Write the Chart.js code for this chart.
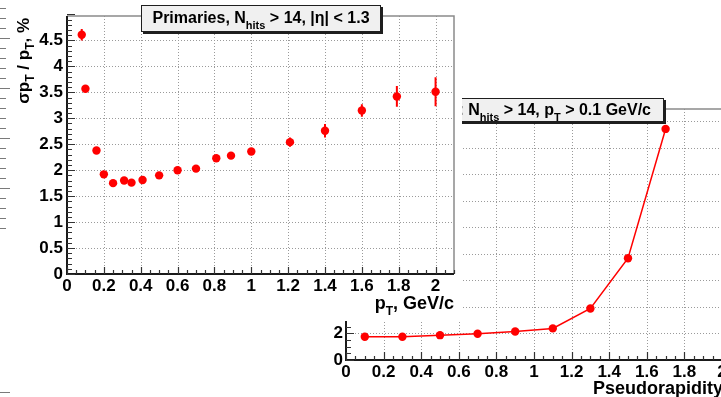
<!DOCTYPE html>
<html>
<head>
<meta charset="utf-8">
<script src="https://cdn.jsdelivr.net/npm/chart.js@4.4.1/dist/chart.umd.min.js"></script>
<style>
  html, body { margin: 0; padding: 0; background: #fff; }
  body { width: 721px; height: 397px; overflow: hidden; position: relative;
         font-family: 'Liberation Sans', Arial, sans-serif; }
  .pad { position: absolute; }
  .pad canvas { position: absolute; left: 0; top: 0; }
  .pave { position: absolute; background: #f0f0f0; border: 1px solid #1e1e1e;
          box-shadow: 2px 2px 0 #1e1e1e; font-weight: bold; font-size: 16px;
          white-space: nowrap; color: #000; text-align: center; }
  .sub { font-size: 12px; position: relative; top: 6px; }
  .pave .sub { font-size: 11px; }
  .atitle { position: absolute; font-weight: bold; font-size: 18px; line-height: 20px;
            white-space: nowrap; color: #000; }
  .vtitle { writing-mode: vertical-rl; transform: rotate(180deg); font-size: 17px; }
  .vtitle .sub { top: 0; left: -6px; }
</style>
</head>
<body>

<!-- resolution vs pseudorapidity (back pad) -->
<div class="pad" id="pad2" style="left:280px; top:90px; width:480px; height:307px; z-index:1;">
  <canvas id="etaChart" width="480" height="307"></canvas>
  <div class="pave" style="right:96px; top:8px; height:22px; line-height:22px; padding:0 12px;">Primaries: N<span class="sub">hits</span> &gt; 14, p<span class="sub">T</span> &gt; 0.1 GeV/c</div>
  <div class="atitle" style="right:37px; top:288px;">Pseudorapidity</div>
</div>

<!-- resolution vs transverse momentum (front pad) -->
<div class="pad" id="pad1" style="left:0; top:0; width:462px; height:321px; background:#fff; z-index:2;">
  <canvas id="ptChart" width="462" height="321"></canvas>
  <div class="pave" style="left:141px; top:5px; width:238px; height:25px; line-height:24px;">Primaries, N<span class="sub">hits</span> &gt; 14, |η| &lt; 1.3</div>
  <div class="atitle" style="right:8px; top:293px;">p<span class="sub">T</span>, GeV/c</div>
  <div class="atitle vtitle" style="left:14px; top:18px;">σp<span class="sub">T</span> / p<span class="sub">T</span>, %</div>
</div>

<canvas id="edgeTicks" width="12" height="397" style="position:absolute; left:0; top:0; z-index:3;"></canvas>

<script>
// sigma(pT)/pT in % versus pT (GeV/c)
const ptBins   = [0.08, 0.10, 0.16, 0.20, 0.25, 0.31, 0.35, 0.41, 0.50, 0.60,
                  0.70, 0.81, 0.89, 1.00, 1.21, 1.40, 1.60, 1.79, 2.00];
const ptSigma  = [4.61, 3.57, 2.38, 1.92, 1.75, 1.80, 1.76, 1.81, 1.90, 2.00,
                  2.03, 2.23, 2.28, 2.36, 2.54, 2.76, 3.15, 3.42, 3.51];
const ptErrors = [0.11, 0.05, 0.04, 0.03, 0.03, 0.03, 0.03, 0.03, 0.03, 0.03,
                  0.04, 0.05, 0.05, 0.06, 0.09, 0.13, 0.12, 0.20, 0.28];
const ptXTicks = [0, 0.2, 0.4, 0.6, 0.8, 1, 1.2, 1.4, 1.6, 1.8, 2];
const ptYTicks = [0, 0.5, 1, 1.5, 2, 2.5, 3, 3.5, 4, 4.5];

// sigma(pT)/pT in % versus pseudorapidity
const etaBins  = [0.1, 0.3, 0.5, 0.7, 0.9, 1.1, 1.3, 1.5, 1.7];
const etaSigma = [1.75, 1.75, 1.87, 1.98, 2.15, 2.38, 3.88, 7.66, 17.4];
const etaXTicks = [0, 0.2, 0.4, 0.6, 0.8, 1, 1.2, 1.4, 1.6, 1.8, 2];
const etaYTicks = [0, 2, 4, 6, 8, 10, 12, 14, 16, 18];

const RED = '#ff0000';
const tickFont = { family: "'Liberation Sans', Arial, sans-serif", weight: 'bold', size: 17 };
const fmt = v => String(+Number(v).toFixed(2));

// ROOT-like frame: dotted grid, grey frame, inward major/minor ticks, error bars
const rootAxes = {
  id: 'rootAxes',
  beforeDatasetsDraw(chart, args, o) {
    const { ctx, chartArea: a } = chart;
    const x = chart.scales.x, y = chart.scales.y;
    ctx.save();
    ctx.lineWidth = 1;
    ctx.strokeStyle = '#9a9a9a';
    ctx.setLineDash([1, 2]);
    ctx.beginPath();
    x.ticks.forEach(t => {
      const px = Math.round(x.getPixelForValue(t.value)) + 0.5;
      if (px - a.left < 3 || a.right - px < 3) return;
      ctx.moveTo(px, a.top); ctx.lineTo(px, a.bottom);
    });
    y.ticks.forEach(t => {
      const py = Math.round(y.getPixelForValue(t.value)) + 0.5;
      if (a.bottom - py < 3 || py - a.top < 3) return;
      ctx.moveTo(a.left, py); ctx.lineTo(a.right, py);
    });
    ctx.stroke();
    ctx.setLineDash([]);

    ctx.strokeStyle = '#8a8a8a';
    ctx.lineWidth = 1.5;
    ctx.beginPath();
    ctx.moveTo(a.left, a.top); ctx.lineTo(a.right, a.top); ctx.lineTo(a.right, a.bottom);
    ctx.stroke();

    ctx.strokeStyle = '#1a1a1a';
    ctx.lineWidth = 2;
    ctx.beginPath();
    ctx.moveTo(a.left, a.top); ctx.lineTo(a.left, a.bottom); ctx.lineTo(a.right, a.bottom);
    ctx.stroke();

    ctx.lineWidth = 1.2;
    ctx.strokeStyle = '#333';
    ctx.beginPath();
    const nx = Math.round((x.max - x.min) / o.xMinor);
    for (let i = 0; i <= nx; i++) {
      const px = Math.round(x.getPixelForValue(x.min + i * o.xMinor)) + 0.5;
      const len = i % o.xMajorEvery === 0 ? o.xMajorLen : o.xMinorLen;
      ctx.moveTo(px, a.bottom); ctx.lineTo(px, a.bottom - len);
    }
    const ny = Math.round((y.max - y.min) / o.yMinor);
    for (let i = 0; i <= ny; i++) {
      const py = Math.round(y.getPixelForValue(y.min + i * o.yMinor)) + 0.5;
      const len = i % o.yMajorEvery === 0 ? o.yMajorLen : o.yMinorLen;
      ctx.moveTo(a.left, py); ctx.lineTo(a.left + len, py);
    }
    ctx.stroke();

    chart.data.datasets.forEach(ds => {
      if (!ds.errorBars) return;
      ctx.strokeStyle = ds.backgroundColor;
      ctx.lineWidth = 2;
      ctx.beginPath();
      ds.data.forEach((p, i) => {
        const px = x.getPixelForValue(p.x);
        ctx.moveTo(px, y.getPixelForValue(p.y - ds.errorBars[i]));
        ctx.lineTo(px, y.getPixelForValue(p.y + ds.errorBars[i]));
      });
      ctx.stroke();
    });
    ctx.restore();
  }
};

function axis(min, max, values, extra) {
  return Object.assign({
    type: 'linear', min, max,
    grid: { display: false, drawTicks: false },
    border: { display: false },
    afterBuildTicks: s => { s.ticks = values.map(v => ({ value: v })); },
    ticks: { autoSkip: false, maxRotation: 0, font: tickFont, color: '#000', callback: fmt }
  }, extra);
}

function xAxis(min, max, values, h, pad) {
  const a = axis(min, max, values, {
    afterFit: s => { s.height = h; s.paddingLeft = 0; s.paddingRight = 0; }
  });
  a.ticks.padding = pad;
  return a;
}
function yAxis(min, max, values, w, pad) {
  const a = axis(min, max, values, {
    afterFit: s => { s.width = w; s.paddingTop = 0; s.paddingBottom = 0; }
  });
  a.ticks.padding = pad;
  return a;
}

new Chart(document.getElementById('etaChart'), {
  type: 'scatter',
  data: {
    datasets: [{
      data: etaBins.map((v, i) => ({ x: v, y: etaSigma[i] })),
      showLine: true, borderColor: RED, borderWidth: 1.5, tension: 0,
      backgroundColor: RED, pointRadius: 4.2, pointBorderWidth: 0, pointHoverRadius: 4.2
    }]
  },
  options: {
    responsive: false, animation: false, events: [],
    layout: { padding: { left: 0, top: 19, right: 38, bottom: 0 } },
    plugins: {
      legend: { display: false }, tooltip: { enabled: false },
      rootAxes: { xMinor: 0.05, xMajorEvery: 4, xMajorLen: 8, xMinorLen: 4,
                  yMinor: 0.5, yMajorEvery: 4, yMajorLen: 8, yMinorLen: 5 }
    },
    scales: {
      x: xAxis(0, 2, etaXTicks, 37, 2),
      y: yAxis(0, 18.9, etaYTicks, 66, 3)
    }
  },
  plugins: [rootAxes]
});

new Chart(document.getElementById('ptChart'), {
  type: 'scatter',
  data: {
    datasets: [{
      data: ptBins.map((v, i) => ({ x: v, y: ptSigma[i] })),
      errorBars: ptErrors,
      showLine: false, backgroundColor: RED, borderColor: RED,
      pointRadius: 4.2, pointBorderWidth: 0, pointHoverRadius: 4.2
    }]
  },
  options: {
    responsive: false, animation: false, events: [],
    layout: { padding: { left: 0, top: 16, right: 8, bottom: 0 } },
    plugins: {
      legend: { display: false }, tooltip: { enabled: false },
      rootAxes: { xMinor: 0.05, xMajorEvery: 4, xMajorLen: 7, xMinorLen: 4,
                  yMinor: 0.1, yMajorEvery: 5, yMajorLen: 8, yMinorLen: 5 }
    },
    scales: {
      x: xAxis(0, 2.1, ptXTicks, 47, 2),
      y: yAxis(0, 4.97, ptYTicks, 67, 4)
    }
  },
  plugins: [rootAxes]
});

// tick column of a further axis at the left edge
(function () {
  const c = document.getElementById('edgeTicks').getContext('2d');
  c.strokeStyle = '#7a7a7a';
  c.lineWidth = 1;
  c.beginPath();
  for (let i = 0; i <= 22; i++) {
    const yy = 8.5 + i * 10;
    c.moveTo(0, yy); c.lineTo(i % 5 === 3 ? 10 : 6, yy);
  }
  c.moveTo(0, 392.5); c.lineTo(10, 392.5);
  c.stroke();
})();
</script>
</body>
</html>
